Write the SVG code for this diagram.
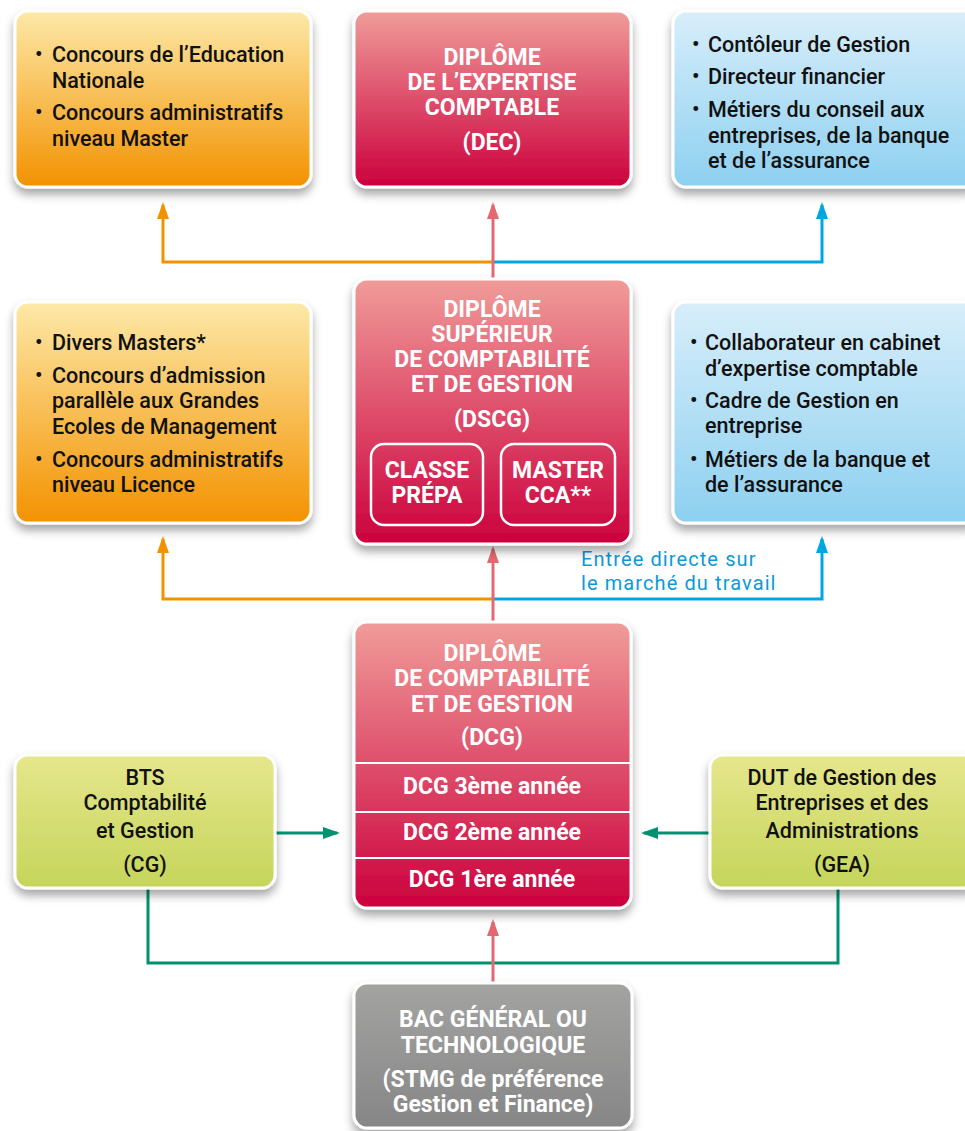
<svg xmlns="http://www.w3.org/2000/svg" width="965" height="1131" viewBox="0 0 965 1131">
<defs>
<linearGradient id="gOr" x1="0" y1="0" x2="0" y2="1"><stop offset="0" stop-color="#fde9a8"/><stop offset="1" stop-color="#f39200"/></linearGradient>
<linearGradient id="gRd" x1="0" y1="0" x2="0" y2="1"><stop offset="0" stop-color="#f09c99"/><stop offset="1" stop-color="#cc003d"/></linearGradient>
<linearGradient id="gBl" x1="0" y1="0" x2="0" y2="1"><stop offset="0" stop-color="#d8eefa"/><stop offset="1" stop-color="#8dd0f0"/></linearGradient>
<linearGradient id="gGr" x1="0" y1="0" x2="0" y2="1"><stop offset="0" stop-color="#e6e68c"/><stop offset="1" stop-color="#c5d55a"/></linearGradient>
<linearGradient id="gGy" x1="0" y1="0" x2="0" y2="1"><stop offset="0" stop-color="#a3a3a2"/><stop offset="1" stop-color="#868686"/></linearGradient>
<filter id="sh" x="-10%" y="-10%" width="120%" height="130%"><feDropShadow dx="0" dy="6" stdDeviation="5" flood-color="#000" flood-opacity="0.35"/></filter>
<marker id="aOr" markerUnits="userSpaceOnUse" markerWidth="18" markerHeight="12" refX="14" refY="6" orient="auto"><path d="M0,0 L17,6 L0,12 z" fill="#f39200"/></marker>
<marker id="aRd" markerUnits="userSpaceOnUse" markerWidth="18" markerHeight="12" refX="14" refY="6" orient="auto"><path d="M0,0 L17,6 L0,12 z" fill="#e3686f"/></marker>
<marker id="aBl" markerUnits="userSpaceOnUse" markerWidth="18" markerHeight="12" refX="14" refY="6" orient="auto"><path d="M0,0 L17,6 L0,12 z" fill="#00a6e2"/></marker>
<marker id="aGr" markerUnits="userSpaceOnUse" markerWidth="18" markerHeight="12" refX="14" refY="6" orient="auto"><path d="M0,0 L17,6 L0,12 z" fill="#009270"/></marker>
<style>
.box{stroke:#fff;stroke-width:3;filter:url(#sh)}
.t{font-family:Roboto,"Liberation Sans",sans-serif;font-size:21.5px;fill:#111;font-weight:500}
.w{font-family:Roboto,"Liberation Sans",sans-serif;font-size:23px;fill:#fff;font-weight:700;text-anchor:middle}
.c{text-anchor:middle}
.ln{fill:none;stroke-width:3}
.or{stroke:#f39200}.rd{stroke:#e3686f}.bl{stroke:#00a6e2}.gr{stroke:#009270}
.lab{font-family:Roboto,"Liberation Sans",sans-serif;font-size:20px;letter-spacing:1.1px;fill:#0a9ad9}
</style>
</defs>
<rect width="965" height="1131" fill="#fff"/>
<g id="connectors">
<path class="ln or" d="M493,262 H163 V205" marker-end="url(#aOr)"/>
<path class="ln bl" d="M493,262 H822 V205" marker-end="url(#aBl)"/>
<path class="ln rd" d="M493,280 V205" marker-end="url(#aRd)"/>
<path class="ln or" d="M493,599 H163 V539" marker-end="url(#aOr)"/>
<path class="ln bl" d="M493,599 H822 V539" marker-end="url(#aBl)"/>
<path class="ln rd" d="M493,622 V549" marker-end="url(#aRd)"/>
<path class="ln gr" d="M148,888 V963 H838 V888"/>
<path class="ln rd" d="M493,983 V922" marker-end="url(#aRd)"/>
<path class="ln gr" d="M276,833 H337" marker-end="url(#aGr)"/>
<path class="ln gr" d="M709,833 H644" marker-end="url(#aGr)"/>
<text class="lab" x="581" y="566">Entrée directe sur</text>
<text class="lab" x="581" y="590">le marché du travail</text>
</g>
<g id="n-concours-master">
<rect class="box" x="15" y="11" width="296" height="176" rx="13" fill="url(#gOr)"/>
<text class="t" x="35" y="62">•</text><text class="t" x="52" y="62">Concours de l’Education</text>
<text class="t" x="52" y="88">Nationale</text>
<text class="t" x="35" y="120">•</text><text class="t" x="52" y="120">Concours administratifs</text>
<text class="t" x="52" y="146">niveau Master</text>
</g>
<g id="n-dec">
<rect class="box" x="354" y="11" width="277" height="176" rx="13" fill="url(#gRd)"/>
<text class="w" x="492" y="65">DIPLÔME</text>
<text class="w" x="492" y="90">DE L’EXPERTISE</text>
<text class="w" x="492" y="115">COMPTABLE</text>
<text class="w" x="492" y="150">(DEC)</text>
</g>
<g id="n-metiers-dec">
<rect class="box" x="673" y="11" width="305" height="176" rx="13" fill="url(#gBl)"/>
<text class="t" x="692" y="52">•</text><text class="t" x="708" y="52">Contôleur de Gestion</text>
<text class="t" x="692" y="84">•</text><text class="t" x="708" y="84">Directeur financier</text>
<text class="t" x="692" y="117">•</text><text class="t" x="708" y="117">Métiers du conseil aux</text>
<text class="t" x="708" y="143">entreprises, de la banque</text>
<text class="t" x="708" y="168">et de l’assurance</text>
</g>
<g id="n-concours-licence">
<rect class="box" x="15" y="302" width="296" height="221" rx="13" fill="url(#gOr)"/>
<text class="t" x="35" y="350">•</text><text class="t" x="52" y="350">Divers Masters*</text>
<text class="t" x="35" y="383">•</text><text class="t" x="52" y="383">Concours d’admission</text>
<text class="t" x="52" y="408">parallèle aux Grandes</text>
<text class="t" x="52" y="434">Ecoles de Management</text>
<text class="t" x="35" y="467">•</text><text class="t" x="52" y="467">Concours administratifs</text>
<text class="t" x="52" y="492">niveau Licence</text>
</g>
<g id="n-dscg">
<rect class="box" x="354" y="279" width="277" height="265" rx="13" fill="url(#gRd)"/>
<text class="w" x="492" y="317">DIPLÔME</text>
<text class="w" x="492" y="342">SUPÉRIEUR</text>
<text class="w" x="492" y="367">DE COMPTABILITÉ</text>
<text class="w" x="492" y="392">ET DE GESTION</text>
<text class="w" x="492" y="427">(DSCG)</text>
<rect x="371" y="444" width="112" height="81" rx="13" fill="none" stroke="#fff" stroke-width="2.5"/>
<text class="w" x="427" y="478">CLASSE</text>
<text class="w" x="427" y="503">PRÉPA</text>
<rect x="501" y="444" width="114" height="81" rx="13" fill="none" stroke="#fff" stroke-width="2.5"/>
<text class="w" x="558" y="478">MASTER</text>
<text class="w" x="558" y="503">CCA**</text>
</g>
<g id="n-metiers-dscg">
<rect class="box" x="673" y="302" width="305" height="221" rx="13" fill="url(#gBl)"/>
<text class="t" x="690" y="350">•</text><text class="t" x="705" y="350">Collaborateur en cabinet</text>
<text class="t" x="705" y="376">d’expertise comptable</text>
<text class="t" x="690" y="408">•</text><text class="t" x="705" y="408">Cadre de Gestion en</text>
<text class="t" x="705" y="433">entreprise</text>
<text class="t" x="690" y="467">•</text><text class="t" x="705" y="467">Métiers de la banque et</text>
<text class="t" x="705" y="492">de l’assurance</text>
</g>
<g id="n-dcg">
<rect class="box" x="354" y="622" width="277" height="286" rx="13" fill="url(#gRd)"/>
<path d="M355,763 H630 M355,812 H630 M355,858 H630" stroke="#fff" stroke-width="2"/>
<text class="w" x="492" y="661">DIPLÔME</text>
<text class="w" x="492" y="686">DE COMPTABILITÉ</text>
<text class="w" x="492" y="712">ET DE GESTION</text>
<text class="w" x="492" y="745">(DCG)</text>
<text class="w" x="492" y="794">DCG 3ème année</text>
<text class="w" x="492" y="840">DCG 2ème année</text>
<text class="w" x="492" y="887">DCG 1ère année</text>
</g>
<g id="n-bts">
<rect class="box" x="15" y="755" width="260" height="133" rx="13" fill="url(#gGr)"/>
<text class="t c" x="145" y="785">BTS</text>
<text class="t c" x="145" y="810">Comptabilité</text>
<text class="t c" x="145" y="838">et Gestion</text>
<text class="t c" x="145" y="872">(CG)</text>
</g>
<g id="n-gea">
<rect class="box" x="710" y="755" width="268" height="133" rx="13" fill="url(#gGr)"/>
<text class="t c" x="842" y="785">DUT de Gestion des</text>
<text class="t c" x="842" y="810">Entreprises et des</text>
<text class="t c" x="842" y="838">Administrations</text>
<text class="t c" x="842" y="872">(GEA)</text>
</g>
<g id="n-bac">
<rect class="box" x="354" y="983" width="278" height="145" rx="13" fill="url(#gGy)"/>
<text class="w" x="493" y="1027">BAC GÉNÉRAL OU</text>
<text class="w" x="493" y="1053">TECHNOLOGIQUE</text>
<text class="w" x="493" y="1087">(STMG de préférence</text>
<text class="w" x="493" y="1112">Gestion et Finance)</text>
</g>
</svg>
